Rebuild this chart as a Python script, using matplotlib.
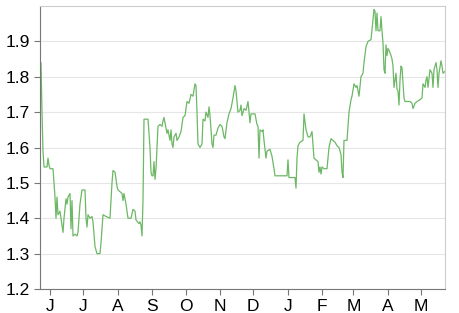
import numpy as np
import pandas as pd
import matplotlib
matplotlib.use("Agg")
import matplotlib.pyplot as plt
import matplotlib.dates as mdates

start = pd.Timestamp("2012-05-23")

# days since start
days = [0.0, 0.9, 1.8, 2.7, 3.6, 6.3, 7.2, 8.1, 9.0, 11.7, 12.6, 13.5, 14.4, 15.3, 16.2,
        18.0, 18.9, 20.7, 21.6, 23.4, 24.3, 25.2, 27.0, 27.9, 28.8, 29.7, 31.5, 33.3, 34.2,
        36.0, 37.8, 40.5, 41.4, 42.3, 43.2, 45.0, 46.8, 47.7, 49.5, 51.3, 54.0, 54.9, 56.7,
        59.4, 63.0, 64.8, 65.7, 67.5, 69.3, 70.2, 72.0, 73.8, 74.7, 75.6, 77.4, 79.2, 81.9,
        83.7, 85.5, 86.4, 89.1, 90.0, 90.9, 91.8, 92.7, 93.6, 97.2, 99.0, 99.9, 100.8, 101.7,
        102.6, 103.5, 104.4, 105.3, 106.2, 108.0, 109.8, 110.7, 111.6, 112.5, 114.3, 115.2,
        117.0, 117.9, 118.8, 119.7, 120.6, 122.4, 123.3, 125.1, 126.9, 128.7, 130.5, 132.3,
        134.1, 135.9, 137.7, 139.5, 140.4, 141.3, 142.2, 144.0, 145.8, 146.7, 148.5, 149.4,
        151.2, 152.1, 153.0, 154.8, 155.7, 156.6, 158.4, 160.2, 162.0, 163.8, 165.6, 166.5,
        168.3, 170.1, 171.9, 173.7, 175.5, 176.4, 177.3, 178.2, 180.0, 180.9, 181.8, 183.6,
        185.4, 187.2, 189.0, 189.9, 193.5, 195.3, 196.2, 197.1, 198.0, 199.8, 200.7, 201.6,
        203.4, 204.3, 207.0, 208.8, 210.6, 211.5, 222.3, 223.2, 224.1, 229.5, 230.4, 231.3,
        232.2, 234.0, 236.7, 237.6, 239.4, 241.2, 243.0, 244.8, 246.6, 248.4, 250.2, 251.1,
        252.0, 252.9, 253.8, 255.6, 258.3, 260.1, 261.9, 263.7, 265.5, 267.3, 269.1, 270.9,
        271.8, 272.7, 273.6, 276.3, 278.1, 279.9, 280.8, 282.6, 284.4, 285.3, 287.1, 288.9,
        290.7, 291.6, 293.4, 295.2, 297.9, 299.7, 300.6, 301.5, 302.4, 303.3, 304.2, 306.0,
        306.9, 307.8, 308.7, 309.6, 310.5, 311.4, 312.3, 313.2, 314.1, 315.9, 316.8, 317.7,
        318.6, 320.4, 321.3, 322.2, 323.1, 324.0, 324.9, 325.8, 326.7, 327.6, 328.5, 333.0,
        334.8, 335.7, 337.5, 339.3, 342.0, 343.8, 344.7, 346.5, 347.4, 348.3, 349.2, 351.0,
        352.8, 353.7, 354.6, 356.4, 357.3, 358.2, 359.1, 360.9, 361.8, 362.7, 364.5]

values = [1.80, 1.84, 1.70, 1.59, 1.545, 1.545, 1.57, 1.55, 1.54, 1.54, 1.50, 1.46, 1.40, 1.46, 1.41,
          1.42, 1.40, 1.36, 1.40, 1.455, 1.44, 1.46, 1.47, 1.37, 1.45, 1.35, 1.355, 1.35, 1.36,
          1.44, 1.48, 1.48, 1.40, 1.375, 1.41, 1.40, 1.405, 1.39, 1.32, 1.30, 1.30, 1.33, 1.41,
          1.405, 1.40, 1.50, 1.535, 1.53, 1.49, 1.48, 1.475, 1.47, 1.45, 1.47, 1.44, 1.40, 1.40,
          1.425, 1.42, 1.395, 1.385, 1.39, 1.38, 1.35, 1.45, 1.68, 1.68, 1.60, 1.53, 1.52, 1.52,
          1.56, 1.51, 1.54, 1.60, 1.66, 1.665, 1.66, 1.675, 1.685, 1.67, 1.64, 1.65,
          1.62, 1.65, 1.61, 1.60, 1.63, 1.64, 1.62, 1.63, 1.645, 1.685, 1.69, 1.73,
          1.725, 1.75, 1.745, 1.78, 1.775, 1.70, 1.61, 1.60, 1.61, 1.68, 1.675, 1.70,
          1.685, 1.715, 1.69, 1.61, 1.60, 1.635, 1.635, 1.655, 1.665, 1.66, 1.63, 1.625,
          1.67, 1.695, 1.71, 1.74, 1.775, 1.76, 1.73, 1.70, 1.705, 1.72, 1.69, 1.71,
          1.705, 1.73, 1.67, 1.695, 1.695, 1.665, 1.66, 1.57, 1.65, 1.645, 1.65, 1.62,
          1.57, 1.59, 1.595, 1.575, 1.54, 1.52, 1.52, 1.565, 1.515, 1.515, 1.485, 1.57,
          1.605, 1.615, 1.62, 1.695, 1.65, 1.63, 1.63, 1.645, 1.57, 1.565, 1.56, 1.53,
          1.545, 1.525, 1.545, 1.54, 1.54, 1.60, 1.625, 1.62, 1.615, 1.605, 1.60, 1.58,
          1.53, 1.515, 1.62, 1.62, 1.70, 1.735, 1.745, 1.78, 1.77, 1.775, 1.745, 1.80,
          1.81, 1.84, 1.885, 1.90, 1.905, 1.96, 1.99, 1.985, 1.93, 1.98, 1.93, 1.93,
          1.97, 1.93, 1.895, 1.82, 1.81, 1.89, 1.86, 1.88, 1.875, 1.86, 1.85, 1.83,
          1.77, 1.81, 1.765, 1.76, 1.72, 1.79, 1.83, 1.825, 1.78, 1.74, 1.73, 1.73,
          1.725, 1.71, 1.725, 1.73, 1.735, 1.74, 1.78, 1.77, 1.79, 1.80, 1.77, 1.82,
          1.81, 1.77, 1.82, 1.84, 1.82, 1.77, 1.81, 1.845, 1.83, 1.81, 1.815]

yticks = [1.2, 1.3, 1.4, 1.5, 1.6, 1.7, 1.8, 1.9]

dates = start + pd.to_timedelta(days, unit="D")

plt.rcParams['font.family'] = ['Liberation Sans', 'DejaVu Sans']

fig = plt.figure(figsize=(4.59, 3.13), dpi=100)
ax = fig.add_axes([40 / 459, 24 / 313, 405 / 459, 283 / 313])

ax.plot(dates, values, color='#6cb864', linewidth=0.9)

ax.set_xlim(dates[0], dates[-1])
ax.set_ylim(1.2, 2.0)
ax.set_yticks(yticks)
ax.set_yticklabels([f"{t:.1f}" for t in yticks])
ax.grid(axis='y', color='#e6e6e6', linewidth=0.8)
ax.set_axisbelow(True)

ax.xaxis.set_major_locator(mdates.MonthLocator())
ax.xaxis.set_major_formatter(mdates.DateFormatter('%b'))
fig.canvas.draw()
ax.set_xticklabels([lbl.get_text()[0] for lbl in ax.get_xticklabels()])

for s in ['left', 'bottom']:
    ax.spines[s].set_color('#777777')
for s in ['top', 'right']:
    ax.spines[s].set_color('#cccccc')
ax.tick_params(axis='both', colors='#777777', labelcolor='black', labelsize=12.5,
               length=4.5, width=0.8)
ax.tick_params(axis='x', pad=2.5)
ax.tick_params(axis='y', pad=3)

fig.savefig('out.png', dpi=100)
